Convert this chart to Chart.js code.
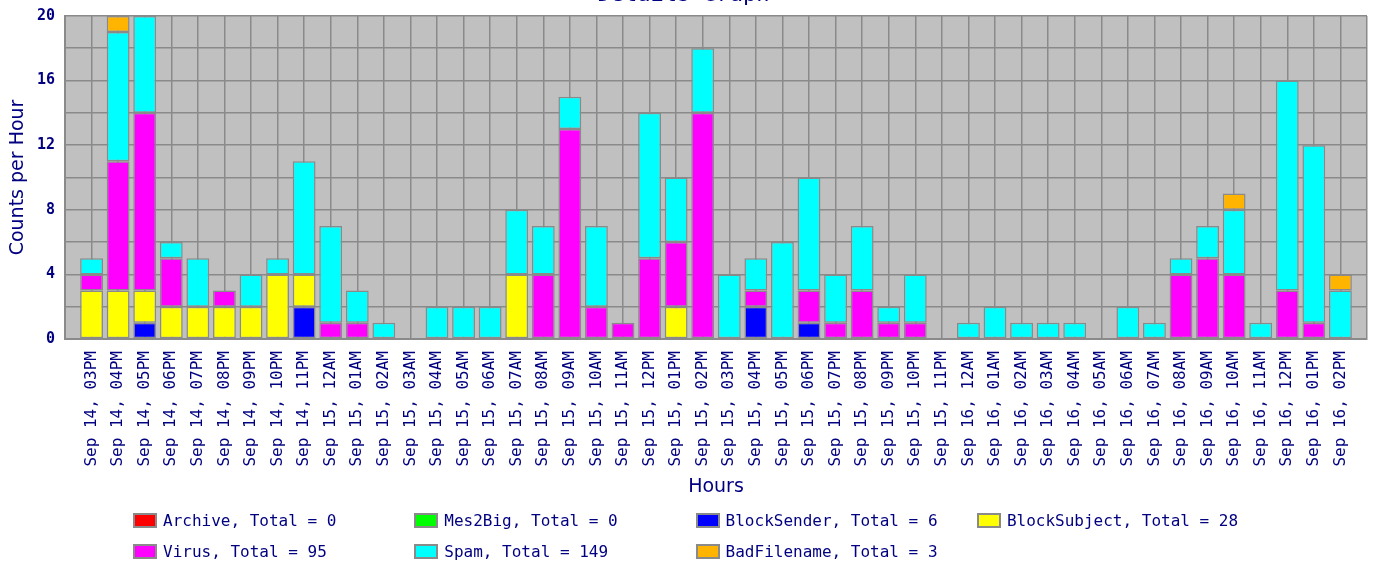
<!DOCTYPE html>
<html>
<head>
<meta charset="utf-8">
<title>Details Graph</title>
<script src="https://cdn.jsdelivr.net/npm/chart.js@4.4.0/dist/chart.umd.min.js"></script>
<style>
  html, body { margin: 0; padding: 0; background: #fff; overflow: hidden; }
  #wrap { position: absolute; left: 0; top: -20px; width: 1376px; height: 520px; }
  #legend { position: absolute; left: 0; top: 0; width: 1376px; height: 563px; pointer-events: none;
            font: 16px 'DejaVu Sans Mono', monospace; color: #000080; }
  .item { position: absolute; display: flex; align-items: center; height: 20px; white-space: pre; }
  .box { width: 20px; height: 11px; border: 2px solid #8a8a8a; margin-right: 6px; }
</style>
</head>
<body>
<div id="wrap"><canvas id="chart"></canvas></div>
<div id="legend"></div>
<script>
// Hour buckets (x axis)
const hours = [
    'Sep 14, 03PM', 'Sep 14, 04PM', 'Sep 14, 05PM', 'Sep 14, 06PM', 'Sep 14, 07PM', 'Sep 14, 08PM',
    'Sep 14, 09PM', 'Sep 14, 10PM', 'Sep 14, 11PM', 'Sep 15, 12AM', 'Sep 15, 01AM', 'Sep 15, 02AM',
    'Sep 15, 03AM', 'Sep 15, 04AM', 'Sep 15, 05AM', 'Sep 15, 06AM', 'Sep 15, 07AM', 'Sep 15, 08AM',
    'Sep 15, 09AM', 'Sep 15, 10AM', 'Sep 15, 11AM', 'Sep 15, 12PM', 'Sep 15, 01PM', 'Sep 15, 02PM',
    'Sep 15, 03PM', 'Sep 15, 04PM', 'Sep 15, 05PM', 'Sep 15, 06PM', 'Sep 15, 07PM', 'Sep 15, 08PM',
    'Sep 15, 09PM', 'Sep 15, 10PM', 'Sep 15, 11PM', 'Sep 16, 12AM', 'Sep 16, 01AM', 'Sep 16, 02AM',
    'Sep 16, 03AM', 'Sep 16, 04AM', 'Sep 16, 05AM', 'Sep 16, 06AM', 'Sep 16, 07AM', 'Sep 16, 08AM',
    'Sep 16, 09AM', 'Sep 16, 10AM', 'Sep 16, 11AM', 'Sep 16, 12PM', 'Sep 16, 01PM', 'Sep 16, 02PM'
];

// Counts per hour, one array per category
const archive = [
    0, 0, 0, 0, 0, 0, 0, 0, 0, 0, 0, 0,
    0, 0, 0, 0, 0, 0, 0, 0, 0, 0, 0, 0,
    0, 0, 0, 0, 0, 0, 0, 0, 0, 0, 0, 0,
    0, 0, 0, 0, 0, 0, 0, 0, 0, 0, 0, 0
];
const mes2Big = [
    0, 0, 0, 0, 0, 0, 0, 0, 0, 0, 0, 0,
    0, 0, 0, 0, 0, 0, 0, 0, 0, 0, 0, 0,
    0, 0, 0, 0, 0, 0, 0, 0, 0, 0, 0, 0,
    0, 0, 0, 0, 0, 0, 0, 0, 0, 0, 0, 0
];
const blockSender = [
    0, 0, 1, 0, 0, 0, 0, 0, 2, 0, 0, 0,
    0, 0, 0, 0, 0, 0, 0, 0, 0, 0, 0, 0,
    0, 2, 0, 1, 0, 0, 0, 0, 0, 0, 0, 0,
    0, 0, 0, 0, 0, 0, 0, 0, 0, 0, 0, 0
];
const blockSubject = [
    3, 3, 2, 2, 2, 2, 2, 4, 2, 0, 0, 0,
    0, 0, 0, 0, 4, 0, 0, 0, 0, 0, 2, 0,
    0, 0, 0, 0, 0, 0, 0, 0, 0, 0, 0, 0,
    0, 0, 0, 0, 0, 0, 0, 0, 0, 0, 0, 0
];
const virus = [
    1, 8, 11, 3, 0, 1, 0, 0, 0, 1, 1, 0,
    0, 0, 0, 0, 0, 4, 13, 2, 1, 5, 4, 14,
    0, 1, 0, 2, 1, 3, 1, 1, 0, 0, 0, 0,
    0, 0, 0, 0, 0, 4, 5, 4, 0, 3, 1, 0
];
const spam = [
    1, 8, 6, 1, 3, 0, 2, 1, 7, 6, 2, 1,
    0, 2, 2, 2, 4, 3, 2, 5, 0, 9, 4, 4,
    4, 2, 6, 7, 3, 4, 1, 3, 0, 1, 2, 1,
    1, 1, 0, 2, 1, 1, 2, 4, 1, 13, 11, 3
];
const badFilename = [
    0, 1, 0, 0, 0, 0, 0, 0, 0, 0, 0, 0,
    0, 0, 0, 0, 0, 0, 0, 0, 0, 0, 0, 0,
    0, 0, 0, 0, 0, 0, 0, 0, 0, 0, 0, 0,
    0, 0, 0, 0, 0, 0, 0, 1, 0, 0, 0, 1
];

const seriesNames = ['Archive', 'Mes2Big', 'BlockSender', 'BlockSubject', 'Virus', 'Spam', 'BadFilename'];
const seriesColors = ['#ff0000', '#00ff00', '#0000ff', '#ffff00', '#ff00ff', '#00ffff', '#ffb400'];
const seriesData = [archive, mes2Big, blockSender, blockSubject, virus, spam, badFilename];

const textColor = '#000080';
const gridColor = '#8a8a8a';

document.addEventListener('DOMContentLoaded', function() {
    // one empty slot on each side, like the original graph
    const labels = [''].concat(hours, ['']);
    const pad = arr => [null].concat(arr.map(v => v === 0 ? null : v), [null]);

    const datasets = seriesNames.map((name, i) => ({
        label: name,
        data: pad(seriesData[i]),
        backgroundColor: seriesColors[i],
        borderColor: gridColor,
        borderWidth: 1.5,
        borderSkipped: false
    }));

    // grey plot background
    const plotBackground = {
        id: 'plotBackground',
        beforeDraw(chart) {
            const { ctx, chartArea: a } = chart;
            ctx.save();
            ctx.fillStyle = '#c0c0c0';
            ctx.fillRect(a.left, a.top, a.right - a.left, a.bottom - a.top);
            ctx.restore();
        }
    };

    const chart = new Chart(document.getElementById('chart'), {
        type: 'bar',
        data: { labels: labels, datasets: datasets },
        plugins: [plotBackground],
        options: {
            responsive: true,
            maintainAspectRatio: false,
            animation: false,
            layout: { padding: { left: 0, right: 9, top: 0, bottom: 0 } },
            datasets: { bar: { categoryPercentage: 1, barPercentage: 0.86 } },
            plugins: {
                legend: { display: false },
                tooltip: { enabled: false },
                title: {
                    display: true,
                    text: 'Details Graph',
                    color: textColor,
                    font: { family: "'DejaVu Sans Mono', monospace", size: 22, weight: 'normal' },
                    padding: { top: 2, bottom: 7.5 }
                }
            },
            scales: {
                x: {
                    stacked: true,
                    offset: false,
                    grid: { offset: false, color: gridColor, lineWidth: 1.5, drawTicks: false },
                    border: { color: gridColor, width: 2 },
                    ticks: {
                        autoSkip: false,
                        maxRotation: 90,
                        minRotation: 90,
                        padding: 12,
                        color: textColor,
                        font: { family: "'DejaVu Sans Mono', monospace", size: 16 }
                    },
                    title: {
                        display: true,
                        text: 'Hours',
                        color: textColor,
                        font: { family: "'DejaVu Sans', sans-serif", size: 19 },
                        padding: { top: 0, bottom: 1.6 }
                    },
                    afterFit: function(scale) {
                        scale.height = 161;
                        scale.paddingLeft = 0;
                        scale.paddingRight = 0;
                    }
                },
                y: {
                    stacked: true,
                    min: 0,
                    max: 20,
                    grid: { color: gridColor, lineWidth: 1.5, drawTicks: false },
                    border: { color: gridColor, width: 2 },
                    ticks: {
                        stepSize: 2,
                        padding: 10,
                        color: textColor,
                        font: { family: "'DejaVu Sans Mono', monospace", size: 15, weight: 'bold' },
                        callback: v => (v % 4 === 0 ? v : '')
                    },
                    title: {
                        display: true,
                        text: 'Counts per Hour',
                        color: textColor,
                        font: { family: "'DejaVu Sans', sans-serif", size: 19 },
                        padding: { top: 7, bottom: 0 }
                    },
                    afterFit: function(scale) {
                        scale.width = 65;
                    }
                }
            }
        }
    });

    // legend in two rows of four, with totals
    const legend = document.getElementById('legend');
    chart.data.datasets.forEach((ds, i) => {
        const total = seriesData[i].reduce((acc, v) => acc + v, 0);
        const item = document.createElement('div');
        item.className = 'item';
        item.style.left = (133 + (i % 4) * 281.3) + 'px';
        item.style.top = (i < 4 ? 510 : 541) + 'px';
        const box = document.createElement('span');
        box.className = 'box';
        box.style.background = ds.backgroundColor;
        const text = document.createElement('span');
        text.textContent = `${ds.label}, Total = ${total}`;
        item.appendChild(box);
        item.appendChild(text);
        legend.appendChild(item);
    });
});
</script>
</body>
</html>
